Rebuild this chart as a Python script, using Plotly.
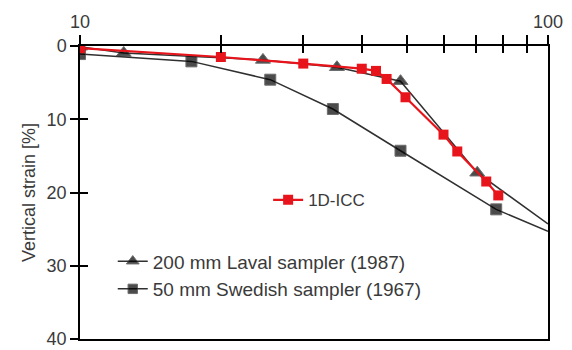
import plotly.graph_objects as go

# Data (load vs vertical strain)
icc_x = [10, 20, 30, 40, 42.9, 45.2, 49.6, 59.8, 64.0, 73.8, 78.3]
icc_y = [0.3, 1.5, 2.4, 3.1, 3.4, 4.5, 7.0, 12.1, 14.4, 18.5, 20.4]

laval_x = [10, 12.4, 24.6, 35.4, 48.4, 70.6, 100]
laval_y = [0.1, 0.95, 1.9, 2.9, 4.8, 17.3, 24.3]
laval_marker = [13, 13, 13, 13, 13, 13, 0]

swed_x = [10, 17.3, 25.5, 34.7, 48.4, 77.5, 100]
swed_y = [1.1, 2.1, 4.6, 8.6, 14.3, 22.3, 25.3]
swed_marker = [11, 11, 11, 11, 11, 11, 0]

x_ticks = [10, 20, 30, 40, 50, 60, 70, 80, 90, 100]
x_ticktext = ["10", "", "", "", "", "", "", "", "", "100"]
y_ticks = [0, 10, 20, 30, 40]

dark = "#303030"
red = "#e8141b"
lab = "#3a3a3a"

fig = go.Figure()
fig.add_trace(go.Scatter(
    x=laval_x, y=laval_y, mode="lines+markers", name="200 mm Laval sampler (1987)",
    line=dict(color=dark, width=1.5),
    marker=dict(symbol="triangle-up", size=laval_marker, color="#000000"),
    legend="legend2", legendgroup="a"))
fig.add_trace(go.Scatter(
    x=swed_x, y=swed_y, mode="lines+markers", name="50 mm Swedish sampler (1967)",
    line=dict(color=dark, width=1.5),
    marker=dict(symbol="square", size=swed_marker, color="#000000"),
    legend="legend2", legendgroup="b"))
fig.add_trace(go.Scatter(
    x=icc_x, y=icc_y, mode="lines+markers", name="1D-ICC",
    line=dict(color=red, width=2.2),
    marker=dict(symbol="square", size=10, color=red),
    legend="legend"))
# invisible overlay trace to activate inside ticks
fig.add_trace(go.Scatter(x=[10], y=[0], xaxis="x2", yaxis="y2", mode="markers",
                         marker=dict(opacity=0), showlegend=False, hoverinfo="skip"))

fig.update_layout(
    width=572, height=350,
    margin=dict(l=80, r=24, t=46, b=11, autoexpand=False),
    paper_bgcolor="white", plot_bgcolor="white",
    font=dict(family="Liberation Sans, Arial, sans-serif", color=lab),
    xaxis=dict(type="log", range=[1, 2], side="top", tickvals=x_ticks, ticktext=x_ticktext,
               ticks="outside", ticklen=9, tickwidth=1.5, tickcolor="black",
               showline=True, linecolor="black", linewidth=1.5, mirror=True, automargin=False,
               showgrid=False, zeroline=False, tickfont=dict(size=18, color=lab)),
    xaxis2=dict(type="log", range=[1, 2], side="top", overlaying="x", tickvals=x_ticks,
                showticklabels=False, ticks="inside", ticklen=7, tickwidth=1.5, tickcolor="black",
                showline=False, showgrid=False, zeroline=False),
    yaxis=dict(range=[40.0001, 0], tickvals=y_ticks, ticks="outside", ticklen=8, tickwidth=1.5,
               tickcolor="black", showline=True, linecolor="black", linewidth=1.5, mirror=True,
               showgrid=False, zeroline=False, tickfont=dict(size=18, color=lab),
               ticklabeloverflow="allow", automargin=False,
               title=dict(text="Vertical strain [%]", font=dict(size=18, color=lab), standoff=6)),
    yaxis2=dict(range=[40.0001, 0], overlaying="y", tickvals=y_ticks, showticklabels=False,
                ticks="inside", ticklen=8, tickwidth=1.5, tickcolor="black",
                showline=False, showgrid=False, zeroline=False),
    legend=dict(x=0.402, y=0.535, xanchor="left", yanchor="top", bgcolor="rgba(0,0,0,0)",
                font=dict(size=17, color=lab)),
    legend2=dict(x=0.07, y=0.33, xanchor="left", yanchor="top", bgcolor="rgba(0,0,0,0)",
                 tracegroupgap=0, font=dict(size=19, color=lab)),
)

fig.write_html("out.html")
